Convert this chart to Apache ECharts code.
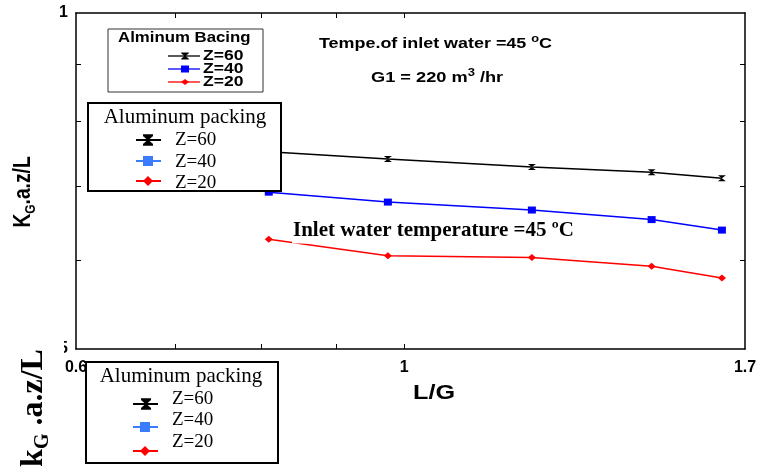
<!DOCTYPE html>
<html><head><meta charset="utf-8">
<script src="https://cdn.jsdelivr.net/npm/echarts@6/dist/echarts.min.js"></script>
<style>html,body{margin:0;padding:0;background:#fff}#c{width:760px;height:472px}</style>
</head><body><div id="c"></div>
<script>
// ---- data ----
const lgRatio = [0.81, 0.975, 1.22, 1.47, 1.64];
const z60 = [0.751, 0.740, 0.728, 0.720, 0.711];
const z40 = [0.691, 0.677, 0.666, 0.653, 0.639];
const z20 = [0.627, 0.606, 0.604, 0.593, 0.579];
const seriesNames = ['Z=60', 'Z=40', 'Z=20'];
const xTickValues = [0.7, 0.8, 0.9, 1];
const xLabelValues = [0.6, 1, 1.7];
const yTickValues = [0.6, 0.7, 0.8, 0.9];
const yLabelValues = [0.5, 1];

const SANS = '"Liberation Sans", Arial, sans-serif';
const SERIF = '"Liberation Serif", "Times New Roman", serif';
const HOUR = 'path://M0,0L10,0L0,10L10,10Z';

function pairs(ys) { return lgRatio.map((x, i) => [x, ys[i]]); }
function fmt(v) { return String(parseFloat(Number(v).toFixed(2))); }

const chart = echarts.init(document.getElementById('c'));

const tickStyle = { show: true, inside: true, length: 5, lineStyle: { color: '#000', width: 1 } };
const axisLineStyle = { show: true, onZero: false, lineStyle: { color: '#000', width: 1.5 } };
const labelStyle = { color: '#000', fontFamily: SANS, fontWeight: 'bold', fontSize: 16 };

// ---- graphic helpers ----
const G = [];
function marker(kind, cx, cy, w, h, color) {
  if (kind === 'hour') {
    G.push({ type: 'polygon', z: 101, shape: { points: [[cx - w / 2, cy - h / 2], [cx + w / 2, cy - h / 2], [cx - w / 2, cy + h / 2], [cx + w / 2, cy + h / 2]] }, style: { fill: color, stroke: color, lineWidth: 1 } });
  } else if (kind === 'sq') {
    G.push({ type: 'rect', z: 101, shape: { x: cx - w / 2, y: cy - h / 2, width: w, height: h }, style: { fill: color } });
  } else {
    G.push({ type: 'polygon', z: 101, shape: { points: [[cx, cy - h / 2], [cx + w / 2, cy], [cx, cy + h / 2], [cx - w / 2, cy]] }, style: { fill: color } });
  }
}
function line(x1, y1, x2, y2, color, w) {
  G.push({ type: 'line', z: 101, shape: { x1, y1, x2, y2 }, style: { stroke: color, lineWidth: w } });
}
function text(x, y, str, font, opts) {
  const o = Object.assign({ align: 'left', scaleX: 1 }, opts || {});
  G.push({ type: 'text', z: 102, x, y, scaleX: o.scaleX, rotation: o.rotation || 0,
    style: Object.assign({ text: str, font, fill: '#000', textAlign: o.align, textVerticalAlign: 'middle', align: o.align, verticalAlign: 'middle' }, o.extra || {}) });
}
function box(x, y, w, h, stroke, lw) {
  G.push({ type: 'rect', z: 100, shape: { x, y, width: w, height: h }, style: { fill: '#fff', stroke, lineWidth: lw } });
}

// legend 1 (top, sans)
box(108, 29, 155, 63, '#333', 1);
text(118, 38, 'Alminum Bacing', 'bold 14px ' + SANS, { scaleX: 1.2 });
const l1 = [['hour', '#000', 56], ['sq', '#0000ff', 69], ['dia', '#ff0000', 82]];
l1.forEach((e, i) => {
  line(168, e[2], 200, e[2], e[1], 1.3);
  if (e[0] === 'hour') marker('hour', 185, e[2], 7, 6, e[1]);
  else if (e[0] === 'sq') marker('sq', 185, e[2], 8, 7, e[1]);
  else marker('dia', 185, e[2], 8, 6, e[1]);
  text(203, e[2], seriesNames[i], 'bold 14px ' + SANS, { scaleX: 1.25 });
});

// legend 2 (middle, serif)
box(88, 103, 193, 88, '#000', 2);
text(185, 117, 'Aluminum packing', '21px ' + SERIF, { align: 'center' });
const l2 = [['hour', '#000', 140, 140], ['sq', '#3b7bff', 161, 162], ['dia', '#ff0000', 181, 183]];
l2.forEach((e, i) => {
  line(136, e[2], 161, e[2], e[1], 2);
  if (e[0] === 'hour') { marker('hour', 148, e[2], 10, 9, e[1]); line(143, e[2] - 5, 153, e[2] - 5, e[1], 1.5); line(143, e[2] + 5, 153, e[2] + 5, e[1], 1.5); }
  else if (e[0] === 'sq') marker('sq', 148, e[2], 10, 10, e[1]);
  else marker('dia', 148, e[2], 10, 10, e[1]);
  text(175, e[3], seriesNames[i], '19px ' + SERIF);
});

// white cover bottom-left (clipped region)
G.push({ type: 'rect', z: 50, shape: { x: 0, y: 336, width: 64, height: 136 }, style: { fill: '#fff' } });

// legend 3 (bottom, serif)
box(86, 362, 192, 101, '#000', 2);
text(181, 376, 'Aluminum packing', '21px ' + SERIF, { align: 'center' });
const l3 = [['hour', '#000', 404, 399], ['sq', '#3b7bff', 427, 420], ['dia', '#ff0000', 451, 442]];
l3.forEach((e, i) => {
  line(133, e[2], 158, e[2], e[1], 2);
  if (e[0] === 'hour') { marker('hour', 146, e[2], 10, 9, e[1]); line(141, e[2] - 5, 151, e[2] - 5, e[1], 1.5); line(141, e[2] + 5, 151, e[2] + 5, e[1], 1.5); }
  else if (e[0] === 'sq') marker('sq', 145, e[2], 10, 10, e[1]);
  else marker('dia', 145, e[2], 10, 10, e[1]);
  text(172, e[3], seriesNames[i], '19px ' + SERIF);
});

// annotations
G.push({ type: 'text', z: 102, x: 319, y: 44, scaleX: 1.28,
  style: { text: '{a|Tempe.of inlet water =45 }{s|o}{a|C}', fill: '#000', textVerticalAlign: 'middle', verticalAlign: 'middle',
    rich: { a: { font: 'bold 14px ' + SANS, lineHeight: 20, fill: '#000' }, s: { font: 'bold 10px ' + SANS, verticalAlign: 'top', lineHeight: 12, fill: '#000' } } } });
G.push({ type: 'text', z: 102, x: 371, y: 78, scaleX: 1.3,
  style: { text: '{a|G1 = 220 m}{s|3}{a| /hr}', fill: '#000', textVerticalAlign: 'middle', verticalAlign: 'middle',
    rich: { a: { font: 'bold 14px ' + SANS, lineHeight: 20, fill: '#000' }, s: { font: 'bold 10px ' + SANS, verticalAlign: 'top', lineHeight: 12, fill: '#000' } } } });
G.push({ type: 'text', z: 102, x: 292, y: 231,
  style: { text: 'Inlet water temperature =45 ºC', font: 'bold 21px ' + SERIF, fill: '#000', textVerticalAlign: 'middle', verticalAlign: 'middle',
    backgroundColor: '#fff', padding: [2, 1, 2, 1] } });

// axis names
G.push({ type: 'text', z: 102, x: 23, y: 192, rotation: Math.PI / 2, scaleX: 0.8,
  style: { text: '{a|K}{b|G}{a|.a.z/L}', textAlign: 'center', align: 'center', textVerticalAlign: 'middle', verticalAlign: 'middle',
    rich: { a: { font: 'bold 24px ' + SANS, lineHeight: 30, fill: '#000' }, b: { font: 'bold 15px ' + SANS, verticalAlign: 'bottom', lineHeight: 20, fill: '#000' } } } });
G.push({ type: 'text', z: 102, x: 34, y: 408, rotation: Math.PI / 2,
  style: { text: '{a|k}{b|G}{a| .a.z/L}', textAlign: 'center', align: 'center', textVerticalAlign: 'middle', verticalAlign: 'middle',
    rich: { a: { font: 'bold 32px ' + SERIF, lineHeight: 38, fill: '#000' }, b: { font: 'bold 20px ' + SERIF, verticalAlign: 'bottom', lineHeight: 26, fill: '#000' } } } });
G.push({ type: 'text', z: 102, x: 434, y: 393, scaleX: 1.2,
  style: { text: 'L/G', font: 'bold 21px ' + SANS, fill: '#000', textAlign: 'center', align: 'center', textVerticalAlign: 'middle', verticalAlign: 'middle' } });

const option = {
  backgroundColor: '#fff',
  animation: false,
  grid: { left: 76, right: 15, top: 13, bottom: 123, containLabel: false, outerBoundsMode: 'none' },
  xAxis: [
    { type: 'log', logBase: 10, min: 0.6, max: 1.7, position: 'bottom', axisLine: axisLineStyle,
      axisTick: Object.assign({ customValues: xTickValues }, tickStyle),
      axisLabel: Object.assign({ customValues: xLabelValues, margin: 11, formatter: fmt }, labelStyle),
      splitLine: { show: false }, minorTick: { show: false } },
    { type: 'log', logBase: 10, min: 0.6, max: 1.7, position: 'top', axisLine: axisLineStyle,
      axisTick: Object.assign({ customValues: xTickValues }, tickStyle),
      axisLabel: { show: false }, splitLine: { show: false } }
  ],
  yAxis: [
    { type: 'log', logBase: 10, min: 0.5, max: 1, position: 'left', axisLine: axisLineStyle,
      axisTick: Object.assign({ customValues: yTickValues }, tickStyle),
      axisLabel: Object.assign({ customValues: yLabelValues, margin: 8, formatter: fmt }, labelStyle),
      splitLine: { show: false } },
    { type: 'log', logBase: 10, min: 0.5, max: 1, position: 'right', axisLine: axisLineStyle,
      axisTick: Object.assign({ customValues: yTickValues }, tickStyle),
      axisLabel: { show: false }, splitLine: { show: false } }
  ],
  series: [
    { name: seriesNames[0], type: 'line', data: pairs(z60), symbol: HOUR, symbolSize: [8, 6], showAllSymbol: true,
      lineStyle: { color: '#000', width: 1.5 }, itemStyle: { color: '#000' } },
    { name: seriesNames[1], type: 'line', data: pairs(z40), symbol: 'rect', symbolSize: [8, 7],
      lineStyle: { color: '#0000ff', width: 1.5 }, itemStyle: { color: '#0000ff' } },
    { name: seriesNames[2], type: 'line', data: pairs(z20), symbol: 'diamond', symbolSize: [8, 7],
      lineStyle: { color: '#ff0000', width: 1.5 }, itemStyle: { color: '#ff0000' } }
  ],
  graphic: { elements: G }
};
chart.setOption(option);
</script></body></html>
